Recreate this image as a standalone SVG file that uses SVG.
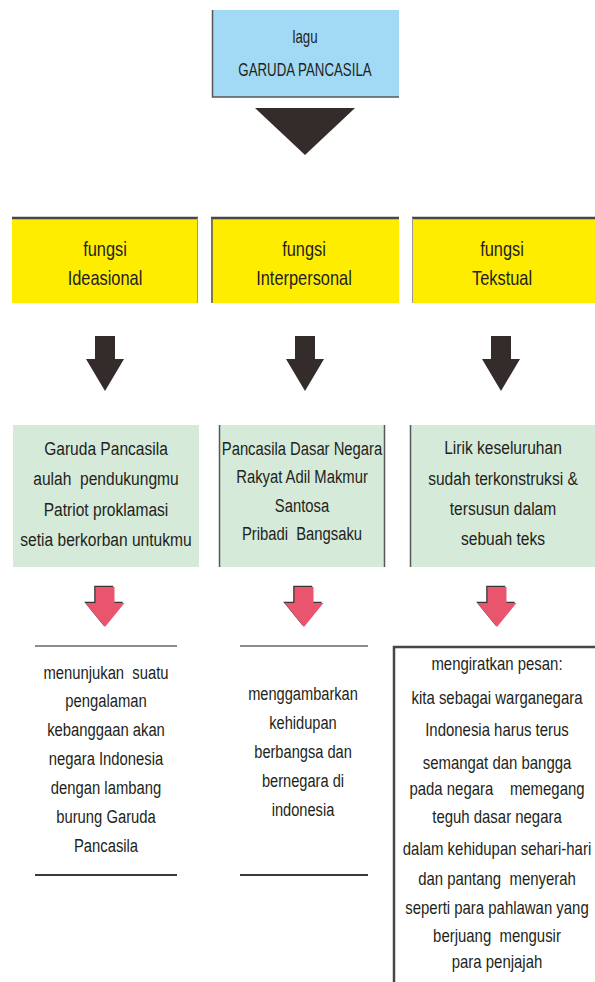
<svg xmlns="http://www.w3.org/2000/svg" width="595" height="982" viewBox="0 0 595 982">
<style>
text { font-family: "Liberation Sans", Arial, sans-serif; fill: #231f20; text-anchor: middle; }
.t19 { font-size: 19px; }
.t20 { font-size: 20px; }
.t18 { font-size: 18px; }
.pre { white-space: pre; }
.blue { fill: #a2d9f5; }
.yellow { fill: #ffed00; }
.green { fill: #d5ead9; }
.edge { stroke: #4a4546; stroke-width: 2.5; fill: none; }
.side { stroke: #5a5556; stroke-width: 1.5; fill: none; }
.thin { stroke: #9a9a9a; stroke-width: 1; fill: none; }
.rule { stroke: #8c8c8c; stroke-width: 2; fill: none; }
.rule2 { stroke: #3a3a3a; stroke-width: 2; fill: none; }
.dark { fill: #332c2a; }
.shadow { fill: #3a3536; }
.red { fill: #e9556d; }
</style>
<defs>
<path id="blackArrow" d="M-10,0 H10 V23 H19 L0,55 L-19,23 H-10 Z"/>
<path id="redArrow" d="M-9.5,0 H9.5 V16 H19.5 L0,40 L-19.5,16 H-9.5 Z"/>
</defs>

<g id="connectors">
  <polygon class="dark" points="255,108 355,108 305,155"/>
  <use href="#blackArrow" class="dark" transform="translate(105,336)"/>
  <use href="#blackArrow" class="dark" transform="translate(305,336)"/>
  <use href="#blackArrow" class="dark" transform="translate(501,336)"/>
  <g transform="translate(105,587)"><use href="#redArrow" class="shadow" transform="translate(-1.3,-1.3)"/><use href="#redArrow" class="red"/></g>
  <g transform="translate(304,587)"><use href="#redArrow" class="shadow" transform="translate(-1.3,-1.3)"/><use href="#redArrow" class="red"/></g>
  <g transform="translate(497,587)"><use href="#redArrow" class="shadow" transform="translate(-1.3,-1.3)"/><use href="#redArrow" class="red"/></g>
</g>

<g id="node-lagu">
  <rect class="blue" x="212" y="10" width="187" height="87"/>
  <path class="side" d="M212.5,10 V97 H399"/>
  <g transform="translate(305,0) scale(0.7,1)">
    <text class="t19" x="0" y="43">lagu</text>
    <text class="t19" x="0" y="76">GARUDA PANCASILA</text>
  </g>
</g>

<g id="node-ideasional">
  <rect class="yellow" x="12" y="217" width="186" height="86"/>
  <path class="edge" d="M12,218 H198"/>
  <path class="thin" d="M197.5,218 V303"/>
  <g transform="translate(105,0) scale(0.82,1)">
    <text class="t20" x="0" y="256">fungsi</text>
    <text class="t20" x="0" y="285">Ideasional</text>
  </g>
</g>

<g id="node-interpersonal">
  <rect class="yellow" x="211" y="217" width="188" height="86"/>
  <path class="edge" d="M211,218 H399"/>
  <path class="side" d="M212,218 V303"/>
  <g transform="translate(304,0) scale(0.82,1)">
    <text class="t20" x="0" y="256">fungsi</text>
    <text class="t20" x="0" y="285">Interpersonal</text>
  </g>
</g>

<g id="node-tekstual">
  <rect class="yellow" x="412" y="217" width="183" height="86"/>
  <path class="edge" d="M412,218 H595"/>
  <path class="thin" d="M412.5,218 V303"/>
  <g transform="translate(502,0) scale(0.82,1)">
    <text class="t20" x="0" y="256">fungsi</text>
    <text class="t20" x="0" y="285">Tekstual</text>
  </g>
</g>

<g id="node-lirik1">
  <rect class="green" x="13" y="425" width="186" height="142"/>
  <g transform="translate(106,0) scale(0.82,1)">
    <text class="t19" x="0" y="455">Garuda Pancasila</text>
    <text class="t19 pre" x="0" y="485">aulah  pendukungmu</text>
    <text class="t19" x="0" y="516">Patriot proklamasi</text>
    <text class="t19" x="0" y="546">setia berkorban untukmu</text>
  </g>
</g>

<g id="node-lirik2">
  <rect class="green" x="219" y="425" width="166" height="142"/>
  <path class="side" d="M219.5,425 V567 M384.5,425 V567"/>
  <g transform="translate(302,0) scale(0.78,1)">
    <text class="t19" x="0" y="455">Pancasila Dasar Negara</text>
    <text class="t19" x="0" y="483">Rakyat Adil Makmur</text>
    <text class="t19" x="0" y="512">Santosa</text>
    <text class="t19 pre" x="0" y="540">Pribadi  Bangsaku</text>
  </g>
</g>

<g id="node-lirik3">
  <rect class="green" x="410" y="425" width="185" height="142"/>
  <path class="side" d="M410.5,425 V567"/>
  <g transform="translate(503,0) scale(0.82,1)">
    <text class="t19" x="0" y="454">Lirik keseluruhan</text>
    <text class="t19" x="0" y="485">sudah terkonstruksi &amp;</text>
    <text class="t19" x="0" y="515">tersusun dalam</text>
    <text class="t19" x="0" y="545">sebuah teks</text>
  </g>
</g>

<g id="node-makna1">
  <path class="rule" d="M35,646 H177"/>
  <path class="rule2" d="M35,875 H177"/>
  <g transform="translate(106,0) scale(0.78,1)">
    <text class="t19 pre" x="0" y="679">menunjukan  suatu</text>
    <text class="t19" x="0" y="707">pengalaman</text>
    <text class="t19" x="0" y="736">kebanggaan akan</text>
    <text class="t19" x="0" y="765">negara Indonesia</text>
    <text class="t19" x="0" y="794">dengan lambang</text>
    <text class="t19" x="0" y="823">burung Garuda</text>
    <text class="t19" x="0" y="852">Pancasila</text>
  </g>
</g>

<g id="node-makna2">
  <path class="rule" d="M240,646 H368"/>
  <path class="rule2" d="M240,875 H368"/>
  <g transform="translate(303,0) scale(0.77,1)">
    <text class="t19" x="0" y="700">menggambarkan</text>
    <text class="t19" x="0" y="729">kehidupan</text>
    <text class="t19" x="0" y="758">berbangsa dan</text>
    <text class="t19" x="0" y="787">bernegara di</text>
    <text class="t19" x="0" y="816">indonesia</text>
  </g>
</g>

<g id="node-makna3">
  <path class="edge" d="M394,982 V647 H595"/>
  <g transform="translate(497,0) scale(0.83,1)">
    <text class="t18" x="0" y="670">mengiratkan pesan:</text>
    <text class="t18" x="0" y="704">kita sebagai warganegara</text>
    <text class="t18" x="0" y="736">Indonesia harus terus</text>
    <text class="t18" x="0" y="769">semangat dan bangga</text>
    <text class="t18 pre" x="0" y="795">pada negara    memegang</text>
    <text class="t18" x="0" y="823">teguh dasar negara</text>
    <text class="t18" x="0" y="855">dalam kehidupan sehari-hari</text>
    <text class="t18 pre" x="0" y="885">dan pantang  menyerah</text>
    <text class="t18" x="0" y="914">seperti para pahlawan yang</text>
    <text class="t18 pre" x="0" y="942">berjuang  mengusir</text>
    <text class="t18" x="0" y="968">para penjajah</text>
  </g>
</g>
</svg>
